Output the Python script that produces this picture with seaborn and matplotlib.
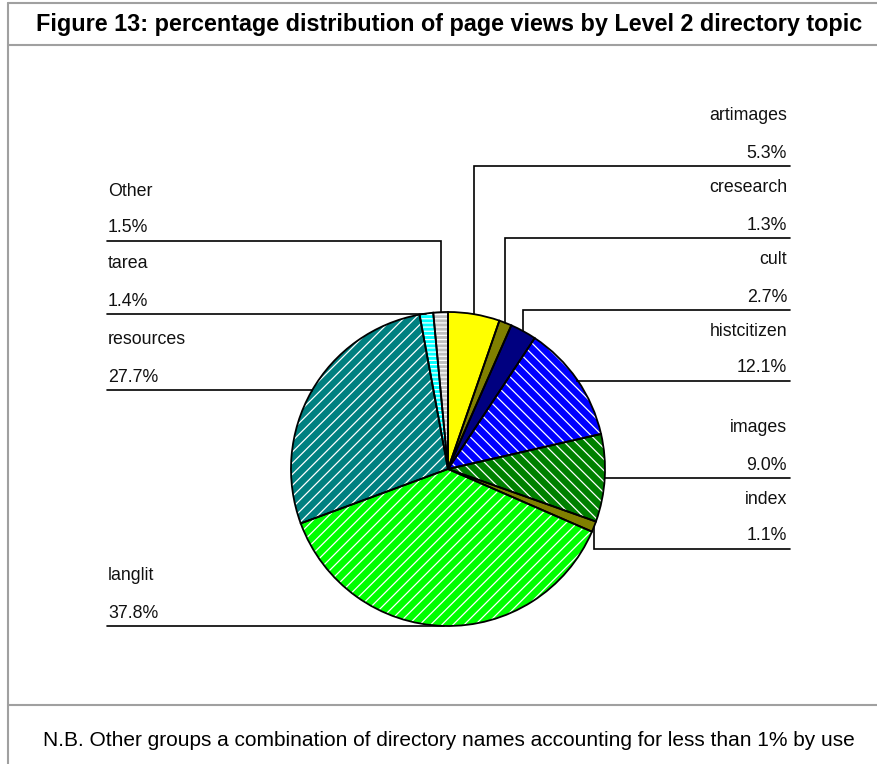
import matplotlib
matplotlib.use("Agg")
import matplotlib.pyplot as plt
import numpy as np
import seaborn as sns

# Page views by Level 2 directory topic (percent)
categories = ["artimages", "cresearch", "cult", "histcitizen", "images",
              "index", "langlit", "resources", "tarea", "Other"]
shares = [5.3, 1.3, 2.7, 12.1, 9.0, 1.1, 37.8, 27.7, 1.4, 1.5]

colors = ["#FFFF00", "#808000", "#000080", "#0000FF", "#008000",
          "#808000", "#00FF00", "#008080", "#00FFFF", "#C0C0C0"]
hatches = ["", "", "", "\\\\\\", "\\\\\\", "", "///", "///", "----", "----"]

sns.set_theme(style="white")
plt.rcParams["font.family"] = ["Liberation Sans", "DejaVu Sans"]
plt.rcParams["hatch.linewidth"] = 0.9

W, H = 877, 764
fig = plt.figure(figsize=(W / 100, H / 100), dpi=100)
ax = fig.add_axes([0, 0, 1, 1])

def Y(y):
    """Convert a top-down pixel row to axes data units."""
    return H - y

cx, cy, r = 448, Y(469), 157

# Filled wedges with white hatching, then black outlines on top
ax.pie(shares, colors=colors, hatch=hatches, startangle=90, counterclock=False,
       center=(cx, cy), radius=r, frame=True,
       wedgeprops=dict(linewidth=0, edgecolor="white"))
ax.pie(shares, colors=["none"] * len(shares), startangle=90, counterclock=False,
       center=(cx, cy), radius=r, frame=True,
       wedgeprops=dict(linewidth=1.3, edgecolor="black", fill=False))

ax.set_xlim(0, W)
ax.set_ylim(0, H)
ax.set_aspect("auto")
ax.axis("off")

# Label layout: side of the chart and the row of each leader line
sides = ["R", "R", "R", "R", "R", "R", "L", "L", "L", "L"]
row_y = [166, 238, 310, 381, 478, 549, 626, 390, 314, 241]
x_right, x_left = 790, 107

total = sum(shares)
cum = 0.0
for name, share, side, ly in zip(categories, shares, sides, row_y):
    t = np.deg2rad(360.0 * (cum + share / 2) / total)
    cum += share
    ex = cx + r * np.sin(t)
    ey = cy + r * np.cos(t)
    line_y = Y(ly)
    x_end = x_right if side == "R" else x_left
    ax.plot([ex, ex, x_end], [ey, line_y, line_y], color="black", lw=1.2,
            solid_joinstyle="miter")
    if side == "R":
        tx, ha = x_right - 3, "right"
    else:
        tx, ha = x_left + 1, "left"
    ax.text(tx, line_y + 50, name, ha=ha, va="center", fontsize=12.8, color="#111111")
    ax.text(tx, line_y + 13, f"{share:.1f}%", ha=ha, va="center", fontsize=12.8,
            color="#111111")

# Frame and title / note rows
frame_c = "#A0A0A0"
ax.plot([8, 8], [Y(3), 0], color=frame_c, lw=1.5)
for yy in (3, 45, 705):
    ax.plot([8, W], [Y(yy), Y(yy)], color=frame_c, lw=1.5)

ax.text(449, Y(25), "Figure 13: percentage distribution of page views by Level 2 directory topic",
        ha="center", va="center", fontsize=16.8, fontweight="bold", color="black")
ax.text(449, Y(741), "N.B. Other groups a combination of directory names accounting for less than 1% by use",
        ha="center", va="center", fontsize=15, color="black")

fig.savefig("out.png", dpi=100)
